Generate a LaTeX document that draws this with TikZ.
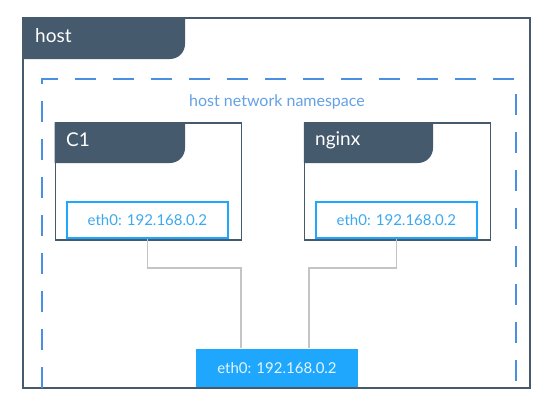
\documentclass[tikz,border=0pt]{standalone}
\usepackage{fontspec}
\setmainfont{Lato}
\definecolor{slate}{HTML}{465A6D}
\definecolor{nsblue}{HTML}{4A90E2}
\definecolor{ethblue}{HTML}{1EA7FD}
\definecolor{ethtext}{HTML}{3DA9EE}
\definecolor{wire}{HTML}{C4C4C4}
\tikzset{
  hostbox/.style={draw=slate,line width=1.3pt,minimum width=507pt,minimum height=370pt,inner sep=0pt},
  ctrbox/.style={draw=slate,line width=1.3pt,fill=white,minimum width=186pt,minimum height=117pt,inner sep=0pt},
  ethbox/.style={draw=ethblue,line width=1.8pt,minimum width=161pt,minimum height=36pt,inner sep=0pt,
    text=ethtext,font=\fontsize{15}{17}\selectfont},
  tabtext/.style={text=white,font=\fontsize{19}{21}\selectfont,anchor=base west,inner sep=0pt},
  wireline/.style={draw=wire,line width=1.3pt}
}
\begin{document}
\begin{tikzpicture}[x=1pt,y=-1pt]
  \useasboundingbox (0,0) rectangle (557,407);
  \fill[white] (0,0) rectangle (557,407);
  % host
  \node[hostbox] (host) at (276.5,203) {};
  \fill[slate] (host.north west) -- (185,18) [rounded corners=15pt] -- (185,59)
    [sharp corners] -- (23,59) -- cycle;
  \node[tabtext] (hostlabel) at (35,42) {host};
  % namespace
  \draw[nsblue,line width=1.3pt,dash pattern=on 21pt off 17pt]
    (42,388) -- (42,79) -- (516,79) -- (516,388);
  \node[text=nsblue!85,font=\fontsize{16}{18}\selectfont,anchor=base] (nslabel) at (277,106)
    {host network namespace};
  % containers
  \node[ctrbox] (c1) at (148.3,181.5) {};
  \node[ctrbox] (nginx) at (397.5,181.5) {};
  \fill[slate] (c1.north west) -- (185,123) [rounded corners=15pt] -- (185,163)
    [sharp corners] -- (c1.west |- 0,163) -- cycle;
  \fill[slate] (nginx.north west) -- (433,123) [rounded corners=15pt] -- (433,163)
    [sharp corners] -- (nginx.west |- 0,163) -- cycle;
  \node[tabtext] (c1label) at (66,146) {C1};
  \node[tabtext] (nginxlabel) at (315,145) {nginx};
  \node[ethbox] (c1eth) at (147.4,219.8) {eth0: 192.168.0.2};
  \node[ethbox] (nginxeth) at (396.4,219.6) {eth0: 192.168.0.2};
  % host interface
  \node[ethbox,fill=ethblue,draw=none,text=white!88!ethblue,minimum height=38pt,minimum width=162pt]
    (hosteth) at (277,368) {eth0: 192.168.0.2};
  \coordinate (bendl) at (241,268);
  \coordinate (bendr) at (309,268);
  \begin{scope}[wireline]
    \draw (c1eth.south) |- (bendl) -- (bendl |- hosteth.north);
    \draw (nginxeth.south) |- (bendr) -- (bendr |- hosteth.north);
  \end{scope}
\end{tikzpicture}
\end{document}
